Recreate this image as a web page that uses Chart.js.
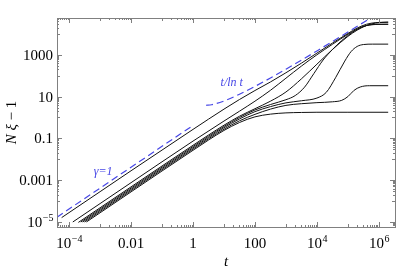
<!DOCTYPE html>
<html>
<head>
<meta charset="utf-8">
<script src="https://cdn.jsdelivr.net/npm/chart.js@4.4.1/dist/chart.umd.min.js"></script>
<style>
  html, body { margin: 0; background: #fff; }
</style>
</head>
<body>
<canvas id="chart" width="399" height="271"></canvas>
<script>
// values, kept as log10 exponents (t, N xi - 1)
const tA = [-4.24, -3, -2, -1, 0, 1, 1.5, 2, 2.5, 3, 3.5, 4, 4.5, 5, 5.3, 5.6, 5.9, 6.3];
const yA = [-4.79, -3.55, -2.55, -1.56, -0.57, 0.40, 0.86, 1.29, 1.70, 2.14, 2.60, 3.08, 3.56, 4.02, 4.28, 4.46, 4.54, 4.56];
const tB = [-3.88, -3, -2, -1, 0, 1, 1.5, 2, 2.5, 3, 3.5, 4, 4.5, 5, 5.3, 5.6, 5.9, 6.3];
const yB = [-5.0, -4.12, -3.12, -2.12, -1.13, -0.17, 0.3, 0.78, 1.3, 1.88, 2.46, 3.0, 3.5, 3.98, 4.23, 4.4, 4.45, 4.46];
const tC = [-3.7, -3, -2, -1, 0, 0.5, 1, 1.5, 2, 2.5, 3, 3.5, 4, 4.5, 5, 5.3, 5.6, 5.9, 6.3];
const yC = [-5.02, -4.32, -3.32, -2.32, -1.33, -0.84, -0.37, 0.06, 0.42, 0.78, 1.22, 1.85, 2.55, 3.25, 3.88, 4.18, 4.4, 4.52, 4.56];
const tD = [-3.62, -3, -2, -1, 0, 0.5, 1, 1.5, 2, 2.5, 3, 3.3, 3.6, 3.9, 4.2, 4.5, 4.8, 5.1, 5.4, 5.7, 6.0, 6.3];
const yD = [-5.0, -4.38, -3.38, -2.38, -1.39, -0.9, -0.43, 0.0, 0.36, 0.62, 0.85, 1.05, 1.45, 2.1, 2.75, 3.25, 3.68, 4.03, 4.3, 4.43, 4.46, 4.46];
const tE = [-3.56, -3, -2, -1, 0, 0.5, 1, 1.5, 2, 2.5, 3, 3.5, 4, 4.3, 4.6, 4.9, 5.1, 5.3, 5.5, 5.8, 6.3];
const yE = [-5.0, -4.44, -3.44, -2.44, -1.45, -0.96, -0.49, -0.07, 0.28, 0.52, 0.7, 0.8, 0.93, 1.2, 1.9, 2.7, 3.15, 3.4, 3.49, 3.51, 3.51];
const tF = [-3.5, -3, -2, -1, 0, 0.5, 1, 1.5, 2, 2.5, 3, 3.5, 4, 4.5, 4.8, 5.0, 5.2, 5.4, 5.7, 6.3];
const yF = [-5.0, -4.5, -3.5, -2.5, -1.51, -1.02, -0.56, -0.16, 0.15, 0.4, 0.58, 0.66, 0.71, 0.75, 0.82, 1.0, 1.3, 1.46, 1.52, 1.52];
const tG = [-3.44, -3, -2, -1, 0, 0.5, 1, 1.5, 2, 2.5, 3, 3.5, 4, 5, 6.3];
const yG = [-5.0, -4.56, -3.56, -2.56, -1.57, -1.08, -0.62, -0.24, 0.03, 0.16, 0.22, 0.24, 0.25, 0.25, 0.25];

// blue dashed guides
const tGamma = [-4.39, 0];
const yGamma = [-4.77, -0.38];
const tLn = [0.42, 0.6, 1, 1.5, 2, 2.5, 3, 3.5, 4, 4.5, 5, 5.5, 5.85];
const yLn = [0.585, 0.61, 0.788, 1.112, 1.487, 1.89, 2.311, 2.744, 3.186, 3.635, 4.089, 4.548, 4.87];

// axes
const xRange = [-4.39, 6.52];
const yRange = [-5.24, 4.76];
const xLabelExp = [-4, -2, 0, 2, 4, 6];
const xLabels = ["10|-4", "0.01", "1", "100", "10|4", "10|6"];
const yLabelExp = [-5, -3, -1, 1, 3];
const yLabels = ["10|-5", "0.001", "0.1", "10", "1000"];
const xMinorDecades = [-5, -3, -1, 1, 3, 5];
const yMinorDecades = [-6, -4, -2, 0, 2, 4];

const blue = "#4646e6";
const serif = '"Liberation Serif", "DejaVu Serif", serif';

const pts = (ts, ys) => ts.map((t, i) => ({ x: 10 ** t, y: 10 ** ys[i] }));

const blackCurves = [[tA, yA], [tB, yB], [tC, yC], [tD, yD], [tE, yE], [tF, yF], [tG, yG]];

const datasets = blackCurves.map(([ts, ys]) => ({
  data: pts(ts, ys),
  borderColor: "#111",
  borderWidth: 1,
  pointRadius: 0,
  cubicInterpolationMode: "monotone",
}));
datasets.push(
  {
    data: pts(tGamma, yGamma),
    borderColor: blue,
    borderWidth: 1.2,
    borderDash: [7, 4],
    pointRadius: 0,
  },
  {
    data: pts(tLn, yLn),
    borderColor: blue,
    borderWidth: 1.2,
    borderDash: [7, 4],
    pointRadius: 0,
    cubicInterpolationMode: "monotone",
  }
);

// draws a label like "10|-4" as 10 with a superscript
function drawSupLabel(ctx, text, x, y, align) {
  const [base, sup] = text.split("|");
  ctx.font = "15px " + serif;
  const wb = ctx.measureText(base).width;
  let ws = 0;
  if (sup) {
    ctx.font = "10px " + serif;
    ws = ctx.measureText(sup.replace("-", "\u2212")).width;
  }
  const w = wb + ws;
  let x0 = align === "right" ? x - w : x - w / 2;
  ctx.textAlign = "left";
  ctx.font = "15px " + serif;
  ctx.fillText(base, x0, y);
  if (sup) {
    ctx.font = "10px " + serif;
    ctx.fillText(sup.replace("-", "\u2212"), x0 + wb + 0.5, y - 6);
  }
}

const frameTicks = {
  id: "frameTicks",
  afterDraw(chart) {
    const { ctx, chartArea: a, scales } = chart;
    const xs = scales.x, ys = scales.y;
    ctx.save();
    ctx.strokeStyle = "#808080";
    ctx.lineWidth = 1;
    ctx.strokeRect(Math.round(a.left) + 0.5, Math.round(a.top) + 0.5,
      Math.round(a.right - a.left), Math.round(a.bottom - a.top));

    const seg = (x1, y1, x2, y2) => {
      ctx.beginPath();
      ctx.moveTo(x1, y1);
      ctx.lineTo(x2, y2);
      ctx.stroke();
    };
    const xTick = (v, len) => {
      const p = Math.round(xs.getPixelForValue(v)) + 0.5;
      if (p < a.left || p > a.right) return;
      seg(p, a.bottom, p, a.bottom - len);
      seg(p, a.top, p, a.top + len);
    };
    const yTick = (v, len) => {
      const p = Math.round(ys.getPixelForValue(v)) + 0.5;
      if (p < a.top || p > a.bottom) return;
      seg(a.left, p, a.left + len, p);
      seg(a.right, p, a.right - len, p);
    };
    xLabelExp.forEach((e) => xTick(10 ** e, 5));
    yLabelExp.forEach((e) => yTick(10 ** e, 5));
    xMinorDecades.forEach((d) => {
      for (let k = 1; k <= 9; k++) xTick(k * 10 ** d, k === 1 ? 3 : 2);
    });
    yMinorDecades.forEach((d) => {
      for (let k = 1; k <= 9; k++) yTick(k * 10 ** d, k === 1 ? 3 : 2);
    });

    // tick labels
    ctx.fillStyle = "#000";
    ctx.textBaseline = "alphabetic";
    xLabelExp.forEach((e, i) => {
      drawSupLabel(ctx, xLabels[i], xs.getPixelForValue(10 ** e), a.bottom + 21, "center");
    });
    yLabelExp.forEach((e, i) => {
      drawSupLabel(ctx, yLabels[i], a.left - 4, ys.getPixelForValue(10 ** e) + 5, "right");
    });

    // axis titles
    ctx.font = "italic 15px " + serif;
    ctx.textAlign = "center";
    ctx.fillText("t", (a.left + a.right) / 2, 266);
    ctx.save();
    ctx.translate(16, (a.top + a.bottom) / 2);
    ctx.rotate(-Math.PI / 2);
    ctx.textAlign = "left";
    const p1 = "N \u03be ";
    const p2 = "\u2212 1";
    ctx.font = "italic 15px " + serif;
    const w1 = ctx.measureText(p1).width;
    ctx.font = "15px " + serif;
    const w2 = ctx.measureText(p2).width;
    ctx.font = "italic 15px " + serif;
    ctx.fillText(p1, -(w1 + w2) / 2, 0);
    ctx.font = "15px " + serif;
    ctx.fillText(p2, -(w1 + w2) / 2 + w1, 0);
    ctx.restore();

    // curve labels
    ctx.fillStyle = blue;
    ctx.font = "italic 12px " + serif;
    ctx.textAlign = "center";
    ctx.fillText("\u03b3=1", xs.getPixelForValue(10 ** -2.9), ys.getPixelForValue(10 ** -2.75));
    ctx.fillText("t/ln t", xs.getPixelForValue(10 ** 1.25), ys.getPixelForValue(10 ** 1.5));
    ctx.restore();
  },
};

new Chart(document.getElementById("chart"), {
  type: "line",
  data: { datasets },
  options: {
    responsive: false,
    animation: false,
    layout: { padding: { left: 57, right: 4, top: 18, bottom: 44 } },
    plugins: { legend: { display: false }, tooltip: { enabled: false } },
    scales: {
      x: { type: "logarithmic", display: false, min: 10 ** xRange[0], max: 10 ** xRange[1] },
      y: { type: "logarithmic", display: false, min: 10 ** yRange[0], max: 10 ** yRange[1] },
    },
  },
  plugins: [frameTicks],
});
</script>
</body>
</html>
